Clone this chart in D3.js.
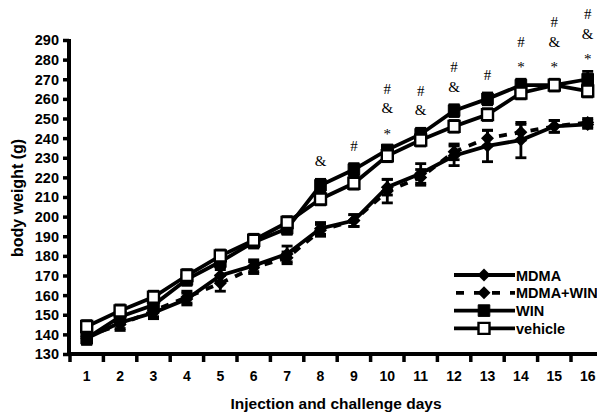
<!DOCTYPE html>
<html>
<head>
  <meta charset="utf-8">
  <script src="https://cdn.jsdelivr.net/npm/d3@7"></script>
  <style>
    body { margin: 0; background: #fff; }
    text { font-family: "Liberation Sans", Arial, sans-serif; font-weight: bold; fill: #000; }
  </style>
</head>
<body>
<script>
  var width = 597;
  var height = 412;

  var days = d3.range(1, 17);
  var yTicks = d3.range(130, 291, 10);

  var mdma      = [138, 146, 151, 158, 170, 175, 181, 194, 198, 215, 222, 231, 236, 239, 246, 247];
  var mdmaErr   = [3, 3, 3, 3, 3, 3, 4, 3, 3, 4, 5, 5, 8, 9, 3, 2];
  var mdmaWin   = [139, 145, 152, 159, 166, 174, 179, 193, 198, 213, 220, 233, 240, 243, 246, 248];
  var mdmaWinErr= [3, 3, 3, 3, 4, 3, 3, 3, 3, 6, 4, 4, 4, 4, 3, 2];
  var win       = [138, 149, 155, 168, 177, 187, 194, 216, 224, 234, 242, 254, 260, 267, 267, 270];
  var winErr    = [3, 3, 3, 3, 3, 3, 3, 3, 3, 2, 3, 3, 3, 3, 2, 4];
  var vehicle   = [144, 152, 159, 170, 180, 188, 197, 209, 217, 231, 239, 246, 252, 263, 267, 264];
  var vehicleErr= [3, 3, 3, 3, 3, 3, 3, 3, 3, 3, 3, 3, 3, 3, 3, 3];

  // significance marks above each day, bottom to top
  var marks = [[], [], [], [], [], [], [], ["&"], ["#"], ["*", "&", "#"], ["&", "#"],
               ["&", "#"], ["#"], ["*", "#"], ["*", "&", "#"], ["*", "&", "#"]];

  var series = [
    { name: "MDMA+WIN", values: mdmaWin, err: mdmaWinErr, marker: "diamond", dash: "8,8" },
    { name: "MDMA", values: mdma, err: mdmaErr, marker: "diamond", dash: null },
    { name: "WIN", values: win, err: winErr, marker: "filled", dash: null },
    { name: "vehicle", values: vehicle, err: vehicleErr, marker: "open", dash: null }
  ];
  var legendOrder = ["MDMA", "MDMA+WIN", "WIN", "vehicle"];

  var svg = d3.select("body").append("svg")
    .attr("width", width)
    .attr("height", height);

  var x0 = 70, bw = 33.4;
  var x = d3.scaleBand().domain(days).range([x0, x0 + bw * 16]).padding(0);
  var y = d3.scaleLinear().domain([130, 290]).range([354, 40]);
  var cx = function(d) { return x(d) + x.bandwidth() / 2; };

  // axes
  var yAxis = svg.append("g").attr("transform", "translate(69,0)")
    .call(d3.axisLeft(y).tickValues(yTicks).tickSize(6).tickPadding(4));
  yAxis.select(".domain").attr("d", "M0," + (y(290) - 1) + "V" + y(130)).attr("stroke-width", 4);
  yAxis.selectAll(".tick line").attr("stroke-width", 3.5);
  yAxis.selectAll(".tick text").style("font-size", "14.5px").attr("dy", "0.34em");

  var xAxis = svg.append("g").attr("transform", "translate(0,354)")
    .call(d3.axisBottom(x).tickSize(0).tickPadding(17));
  xAxis.select(".domain").attr("d", "M67,0H" + width).attr("stroke-width", 4);
  xAxis.selectAll(".tick text").style("font-size", "14px");
  svg.append("g").selectAll("line")
    .data(d3.range(0, 17))
    .join("line")
    .attr("x1", function(i) { return x0 + i * bw; })
    .attr("x2", function(i) { return x0 + i * bw; })
    .attr("y1", 354).attr("y2", 362)
    .attr("stroke", "#000").attr("stroke-width", 3.5);

  svg.append("text")
    .attr("x", 336).attr("y", 409)
    .attr("text-anchor", "middle")
    .style("font-size", "15.5px")
    .text("Injection and challenge days");

  svg.append("text")
    .attr("transform", "translate(23,198) rotate(-90)")
    .attr("text-anchor", "middle")
    .style("font-size", "16px")
    .text("body weight (g)");

  function markerPath(type, s) {
    if (type === "diamond") return "M0," + (-s) + "L" + s + ",0L0," + s + "L" + (-s) + ",0Z";
    return "M" + (-s) + "," + (-s) + "H" + s + "V" + s + "H" + (-s) + "Z";
  }

  function drawMarker(g, type, px, py) {
    if (type === "diamond") {
      g.append("path").attr("d", markerPath("diamond", 6.5))
        .attr("transform", "translate(" + px + "," + py + ")").attr("fill", "#000");
    } else if (type === "filled") {
      g.append("path").attr("d", markerPath("sq", 5.8))
        .attr("transform", "translate(" + px + "," + py + ")")
        .attr("fill", "#000").attr("stroke", "#000").attr("stroke-width", 1);
    } else {
      g.append("path").attr("d", markerPath("sq", 5.5))
        .attr("transform", "translate(" + px + "," + py + ")")
        .attr("fill", "#fff").attr("stroke", "#000").attr("stroke-width", 2.4);
    }
  }

  var line = d3.line().x(function(d, i) { return cx(days[i]); }).y(function(d) { return y(d); });

  series.forEach(function(s) {
    var g = svg.append("g");
    // error bars
    s.values.forEach(function(v, i) {
      var px = cx(days[i]);
      g.append("line").attr("x1", px).attr("x2", px)
        .attr("y1", y(v - s.err[i])).attr("y2", y(v + s.err[i]))
        .attr("stroke", "#000").attr("stroke-width", 2.8);
      [v - s.err[i], v + s.err[i]].forEach(function(e) {
        g.append("line").attr("x1", px - 5.5).attr("x2", px + 5.5)
          .attr("y1", y(e)).attr("y2", y(e))
          .attr("stroke", "#000").attr("stroke-width", 2.8);
      });
    });
    g.append("path").datum(s.values)
      .attr("d", line)
      .attr("fill", "none").attr("stroke", "#000").attr("stroke-width", 3.8)
      .attr("stroke-dasharray", s.dash);
    s.values.forEach(function(v, i) {
      drawMarker(g, s.marker, cx(days[i]), y(v));
    });
  });

  // significance symbols
  marks.forEach(function(m, i) {
    if (!m.length) return;
    var top = d3.max(series, function(s) { return s.values[i] + s.err[i]; });
    var base = y(top) - 13;
    m.forEach(function(sym, k) {
      svg.append("text")
        .attr("x", cx(days[i])).attr("y", base - k * 19.5 + (sym === "*" ? 6 : 0))
        .attr("text-anchor", "middle")
        .style("font-family", "'Liberation Serif', 'Times New Roman', serif")
        .style("font-weight", "normal")
        .style("font-size", "15px")
        .text(sym);
    });
  });

  // legend
  var lg = svg.append("g");
  legendOrder.forEach(function(name, k) {
    var s = series.find(function(d) { return d.name === name; });
    var ly = 275 + k * 17.8;
    lg.append("line").attr("x1", 454).attr("x2", 515).attr("y1", ly).attr("y2", ly)
      .attr("stroke", "#000").attr("stroke-width", 3.8)
      .attr("stroke-dasharray", s.dash ? "8,10" : null)
      .attr("stroke-dashoffset", s.dash ? -2 : null);
    drawMarker(lg, s.marker, 484, ly);
    lg.append("text").attr("x", 516).attr("y", ly + 5.5)
      .style("font-size", "14.5px")
      .text(name);
  });
</script>
</body>
</html>
